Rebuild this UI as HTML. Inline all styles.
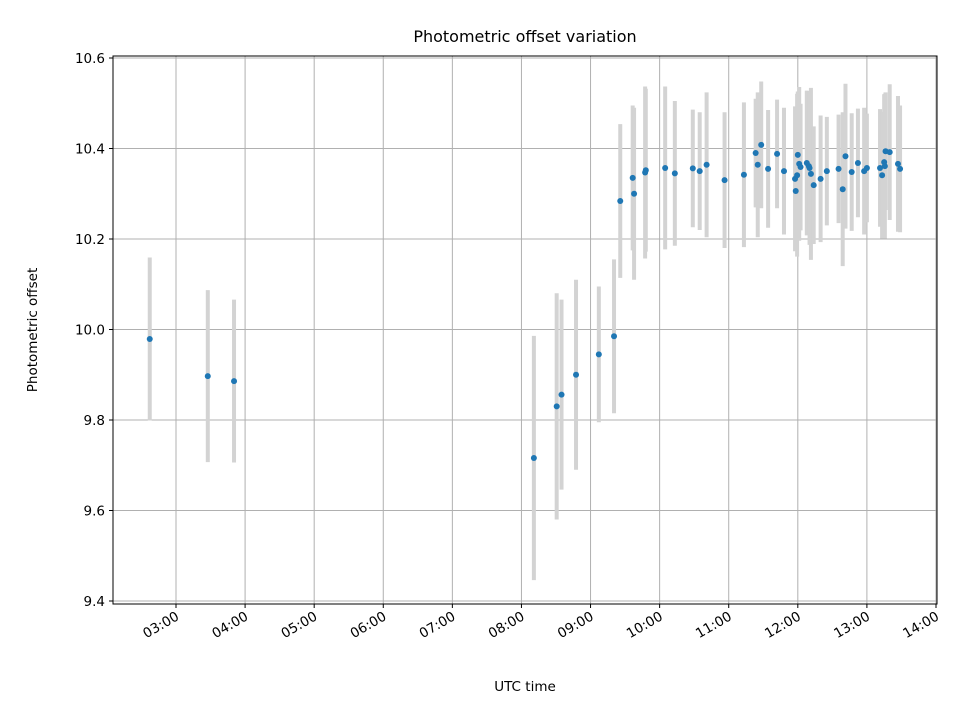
<!DOCTYPE html>
<html><head><meta charset="utf-8"><style>
body{margin:0;background:#fff}
text{font-family:"DejaVu Sans","Liberation Sans",sans-serif;fill:#000}
</style></head><body>
<svg id="chart" width="960" height="720" xmlns="http://www.w3.org/2000/svg">
<text x="525" y="42" font-size="16" text-anchor="middle">Photometric offset variation</text>
<text x="525" y="691" font-size="13.5" text-anchor="middle">UTC time</text>
<text transform="translate(37,330) rotate(-90)" font-size="13.5" text-anchor="middle">Photometric offset</text>
<g id="grid"></g><g id="bars"></g><g id="pts"></g><g id="axes"></g>
</svg>
<script>
const hours=[2.62,3.46,3.84,8.18,8.51,8.58,8.79,9.12,9.34,9.43,9.61,9.63,9.79,9.80,10.08,10.22,10.48,10.58,10.68,10.94,11.22,11.39,11.42,11.47,11.57,11.70,11.80,11.96,11.97,11.99,12.0,12.02,12.04,12.13,12.16,12.17,12.19,12.23,12.33,12.42,12.59,12.65,12.69,12.78,12.87,12.96,13.0,13.19,13.22,13.25,13.26,13.27,13.33,13.45,13.48];
const values=[9.979,9.897,9.886,9.716,9.83,9.856,9.90,9.945,9.985,10.284,10.335,10.30,10.347,10.352,10.357,10.345,10.356,10.35,10.364,10.33,10.342,10.39,10.364,10.408,10.355,10.388,10.35,10.333,10.306,10.341,10.386,10.366,10.359,10.368,10.361,10.357,10.344,10.319,10.333,10.35,10.355,10.31,10.383,10.348,10.368,10.35,10.357,10.357,10.341,10.37,10.361,10.394,10.392,10.366,10.355];
const errors=[0.18,0.19,0.18,0.27,0.25,0.21,0.21,0.15,0.17,0.17,0.16,0.19,0.19,0.18,0.18,0.16,0.13,0.13,0.16,0.15,0.16,0.12,0.16,0.14,0.13,0.12,0.14,0.16,0.13,0.18,0.14,0.17,0.14,0.16,0.15,0.17,0.19,0.13,0.14,0.12,0.12,0.17,0.16,0.13,0.12,0.14,0.12,0.13,0.14,0.15,0.16,0.13,0.15,0.15,0.14];
const yTicks=[9.4,9.6,9.8,10.0,10.2,10.4,10.6];
const xTicks=[3,4,5,6,7,8,9,10,11,12,13,14];
const L=113,R=937,T=56,B=604;
const xs=h=>176+(h-3)*69.09;
const ys=v=>329.5-(v-10)*452.5;
const NS="http://www.w3.org/2000/svg";
function mk(tag,parent,attrs){const e=document.createElementNS(NS,tag);for(const k in attrs)e.setAttribute(k,attrs[k]);document.getElementById(parent).appendChild(e);return e;}
yTicks.forEach(v=>{const y=ys(v);
const g=mk('line','grid',{x1:L,x2:R,y1:y,y2:y,stroke:'#b0b0b0','stroke-width':1});


mk('line','axes',{x1:L-4,x2:L,y1:y,y2:y,stroke:'#000'});
const t=mk('text','axes',{x:L-8,y:y+5,'font-size':13.5,'text-anchor':'end'});t.textContent=v.toFixed(1);

});
xTicks.forEach(h=>{const x=xs(h);
const g=mk('line','grid',{x1:x,x2:x,y1:T,y2:B,stroke:'#b0b0b0','stroke-width':1});


mk('line','axes',{x1:x,x2:x,y1:B,y2:B+4,stroke:'#000'});
const t=mk('text','axes',{transform:`translate(${x+4},${B+15}) rotate(-30)`,'font-size':13.5,'text-anchor':'end'});
t.textContent=String(h).padStart(2,'0')+':00';

});
const fr=mk('rect','axes',{x:L,y:T,width:R-L,height:B-T,fill:'none',stroke:'#000','stroke-width':1});


hours.forEach((h,i)=>{const x=xs(h);
const b=mk('line','bars',{x1:x,x2:x,y1:ys(values[i]+errors[i]),y2:ys(values[i]-errors[i]),stroke:'#d3d3d3','stroke-width':4});


const c=mk('circle','pts',{cx:x,cy:ys(values[i]),r:3,fill:'#1f77b4'});

});
</script>
</body></html>
